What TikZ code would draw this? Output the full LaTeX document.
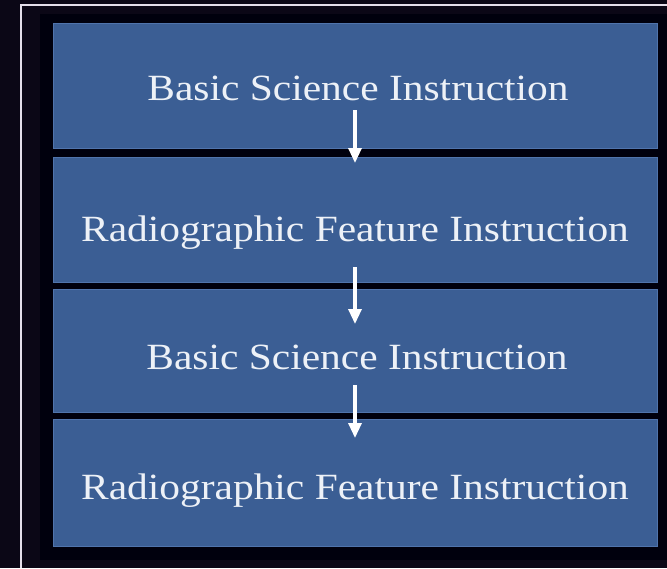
\documentclass[tikz,border=0pt]{standalone}
\usepackage{fontspec}
\usepackage{graphicx}
\setmainfont{Liberation Serif}
\usetikzlibrary{arrows.meta}
\definecolor{bgdark}{HTML}{0B0716}
\definecolor{boxblue}{HTML}{3B5E94}
\definecolor{boxedge}{HTML}{5074AC}
\definecolor{txt}{HTML}{EDF1F7}
\definecolor{frameln}{HTML}{E4DEEA}
\tikzset{
  stagebox/.style={draw=boxedge, line width=1pt, fill=boxblue, minimum width=604pt, inner sep=0pt, rectangle},
  stagetext/.style={text=txt, anchor=base, inner sep=0pt, font=\fontsize{37}{42}\selectfont},
  flowarrow/.style={draw=white, line width=3.2pt, -{Triangle[length=15pt,width=13pt]}}
}
\begin{document}
\begin{tikzpicture}[x=1pt,y=-1pt]
\fill[bgdark] (0,0) rectangle (667,568);
\useasboundingbox (0,0) rectangle (667,568);
\fill[black!95!blue] (40,14) rectangle (667,560);
\draw[frameln, line width=2.4pt] (21,568) -- (21,5) -- (667,5);
\node[stagebox, minimum height=125pt] (b1) at (355,86) {};
\node[stagebox, minimum height=125pt] (b2) at (355,219.5) {};
\node[stagebox, minimum height=123pt] (b3) at (355,350.5) {};
\node[stagebox, minimum height=127pt] (b4) at (355,483) {};
\node[stagetext] (t1) at (358,100) {\scalebox{1.12}[1]{Basic Science Instruction}};
\node[stagetext] (t2) at (355,241) {\scalebox{1.12}[1]{Radiographic Feature Instruction}};
\node[stagetext] (t3) at (357,369) {\scalebox{1.12}[1]{Basic Science Instruction}};
\node[stagetext] (t4) at (355,499) {\scalebox{1.12}[1]{Radiographic Feature Instruction}};
\coordinate (a1s) at (355,110);
\coordinate (a1e) at (355,163);
\coordinate (a2s) at (355,267);
\coordinate (a2e) at (355,324);
\coordinate (a3s) at (355,385);
\coordinate (a3e) at (355,438);
\draw[flowarrow] (a1s) -- (a1e);
\draw[flowarrow] (a2s) -- (a2e);
\draw[flowarrow] (a3s) -- (a3e);
\end{tikzpicture}
\end{document}
